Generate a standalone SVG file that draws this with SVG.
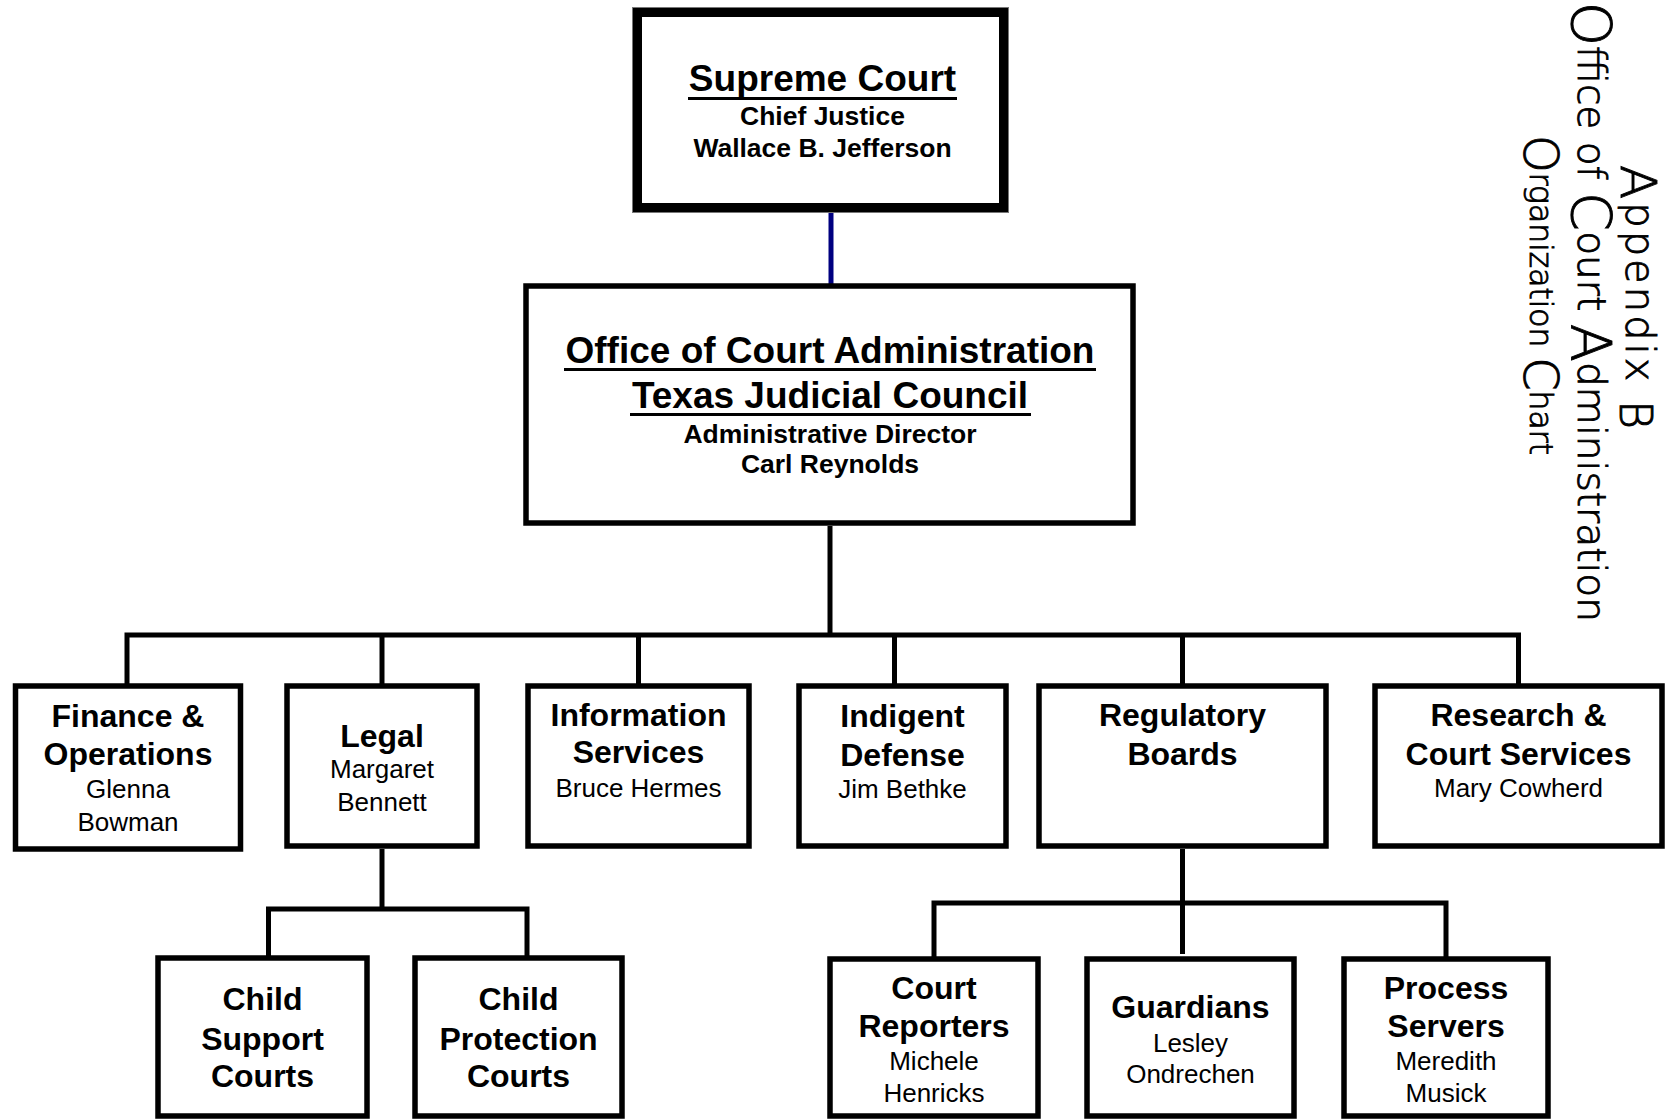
<svg xmlns="http://www.w3.org/2000/svg" width="1666" height="1119" viewBox="0 0 1666 1119">
<style>
.box{fill:#fff;stroke:#000;stroke-width:5.5}
.conn{fill:none;stroke:#000;stroke-width:5;stroke-linejoin:miter}
.blue{fill:none;stroke:#000080;stroke-width:5}
.ul{stroke:#000;stroke-width:3}
.b{font-family:"Liberation Sans",Arial,sans-serif;font-weight:bold;font-size:32px;text-anchor:middle;fill:#000}
.r{font-family:"Liberation Sans",Arial,sans-serif;font-size:26px;text-anchor:middle;fill:#000}
.big{font-size:37px}
.mid{font-size:26.5px}
.title{font-family:"DejaVu Sans",sans-serif;font-weight:200;fill:#000;stroke:#000;stroke-width:0.9}
</style>
<g id="connectors">
<path class="blue" d="M831,212 V284"/>
<path class="conn" d="M830,526 V635"/>
<path class="conn" d="M127,684 V635 H1518.5 V684"/>
<path class="conn" d="M382,635 V684"/>
<path class="conn" d="M638.5,635 V684"/>
<path class="conn" d="M894.5,635 V684"/>
<path class="conn" d="M1182.5,635 V684"/>
<path class="conn" d="M382,849 V909"/>
<path class="conn" d="M268.5,956 V909 H527 V956"/>
<path class="conn" d="M1182.5,849 V954"/>
<path class="conn" d="M934,957 V903 H1446 V957"/>
</g>
<g id="supreme-court">
<rect x="637.5" y="12.5" width="366" height="195" fill="#fff" stroke="#000" stroke-width="9"/>
<rect x="632.5" y="7.5" width="376" height="205" fill="none" stroke="#777" stroke-width="1"/>
<text class="b big" x="822.5" y="91">Supreme Court</text>
<line class="ul" x1="688" y1="98.5" x2="957" y2="98.5"/>
<text class="b mid" x="822.5" y="125">Chief Justice</text>
<text class="b mid" x="822.5" y="157">Wallace B. Jefferson</text>
</g>
<g id="oca">
<rect class="box" x="526" y="286" width="607" height="237"/>
<text class="b big" x="830" y="363">Office of Court Administration</text>
<line class="ul" x1="564" y1="369.5" x2="1096" y2="369.5"/>
<text class="b big" x="830" y="408">Texas Judicial Council</text>
<line class="ul" x1="630" y1="414.5" x2="1031" y2="414.5"/>
<text class="b mid" x="830" y="443">Administrative Director</text>
<text class="b mid" x="830" y="473">Carl Reynolds</text>
</g>
<g id="finance">
<rect class="box" x="15.5" y="686" width="225" height="163"/>
<text class="b" x="128" y="727">Finance &amp;</text>
<text class="b" x="128" y="765">Operations</text>
<text class="r" x="128" y="798">Glenna</text>
<text class="r" x="128" y="831">Bowman</text>
</g>
<g id="legal">
<rect class="box" x="287" y="686" width="190" height="160"/>
<text class="b" x="382" y="747">Legal</text>
<text class="r" x="382" y="778">Margaret</text>
<text class="r" x="382" y="811">Bennett</text>
</g>
<g id="information-services">
<rect class="box" x="528" y="686" width="221" height="160"/>
<text class="b" x="638.5" y="726">Information</text>
<text class="b" x="638.5" y="763">Services</text>
<text class="r" x="638.5" y="797">Bruce Hermes</text>
</g>
<g id="indigent-defense">
<rect class="box" x="799" y="686" width="207" height="160"/>
<text class="b" x="902.5" y="727">Indigent</text>
<text class="b" x="902.5" y="766">Defense</text>
<text class="r" x="902.5" y="798">Jim Bethke</text>
</g>
<g id="regulatory-boards">
<rect class="box" x="1039" y="686" width="287" height="160"/>
<text class="b" x="1182.5" y="726">Regulatory</text>
<text class="b" x="1182.5" y="765">Boards</text>
</g>
<g id="research">
<rect class="box" x="1375" y="686" width="287" height="160"/>
<text class="b" x="1518.5" y="726">Research &amp;</text>
<text class="b" x="1518.5" y="765">Court Services</text>
<text class="r" x="1518.5" y="797">Mary Cowherd</text>
</g>
<g id="child-support">
<rect class="box" x="158" y="958" width="209" height="158"/>
<text class="b" x="262.5" y="1010">Child</text>
<text class="b" x="262.5" y="1050">Support</text>
<text class="b" x="262.5" y="1087">Courts</text>
</g>
<g id="child-protection">
<rect class="box" x="415" y="958" width="207" height="158"/>
<text class="b" x="518.5" y="1010">Child</text>
<text class="b" x="518.5" y="1050">Protection</text>
<text class="b" x="518.5" y="1087">Courts</text>
</g>
<g id="court-reporters">
<rect class="box" x="830" y="959" width="208" height="157"/>
<text class="b" x="934" y="999">Court</text>
<text class="b" x="934" y="1037">Reporters</text>
<text class="r" x="934" y="1070">Michele</text>
<text class="r" x="934" y="1102">Henricks</text>
</g>
<g id="guardians">
<rect class="box" x="1087" y="959" width="207" height="157"/>
<text class="b" x="1190.5" y="1018">Guardians</text>
<text class="r" x="1190.5" y="1052">Lesley</text>
<text class="r" x="1190.5" y="1083">Ondrechen</text>
</g>
<g id="process-servers">
<rect class="box" x="1344" y="959" width="204" height="157"/>
<text class="b" x="1446" y="999">Process</text>
<text class="b" x="1446" y="1037">Servers</text>
<text class="r" x="1446" y="1070">Meredith</text>
<text class="r" x="1446" y="1102">Musick</text>
</g>
<g id="title">
<text class="title" transform="translate(1626,165) rotate(90)" font-size="40" textLength="264"><tspan font-size="50" dy="5">A</tspan><tspan dy="-5">ppendix </tspan><tspan font-size="44" dy="6">B</tspan></text>
<text class="title" transform="translate(1578,2) rotate(90)" font-size="39" textLength="620"><tspan font-size="56" dy="6">O</tspan><tspan dy="-6">ffice of </tspan><tspan font-size="56" dy="6">C</tspan><tspan dy="-6">ourt </tspan><tspan font-size="56" dy="6">A</tspan><tspan dy="-6">dministration</tspan></text>
<text class="title" transform="translate(1530,135) rotate(90)" font-size="32" textLength="320"><tspan font-size="48" dy="6">O</tspan><tspan dy="-6">rganization </tspan><tspan font-size="48" dy="6">C</tspan><tspan dy="-6">hart</tspan></text>
</g>
</svg>
